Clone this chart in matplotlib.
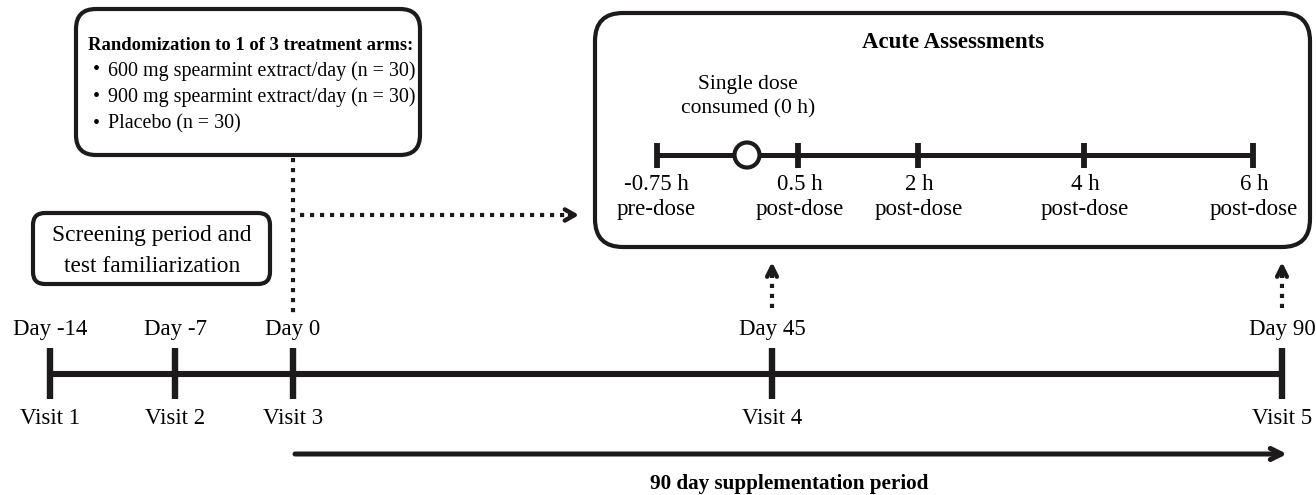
import matplotlib
matplotlib.use("Agg")
import matplotlib.pyplot as plt
from matplotlib.patches import FancyBboxPatch, Circle

plt.rcParams['font.family'] = ['Liberation Serif', 'DejaVu Serif']

# ---- data ----
day_labels = ["Day -14", "Day -7", "Day 0", "Day 45", "Day 90"]
visit_labels = ["Visit 1", "Visit 2", "Visit 3", "Visit 4", "Visit 5"]
arm_title = "Randomization to 1 of 3 treatment arms:"
arms = ["600 mg spearmint extract/day (n = 30)",
        "900 mg spearmint extract/day (n = 30)",
        "Placebo (n = 30)"]
screening_text = ["Screening period and", "test familiarization"]
acute_title = "Acute Assessments"
acute_times = ["-0.75 h", "0.5 h", "2 h", "4 h", "6 h"]
acute_phase = ["pre-dose", "post-dose", "post-dose", "post-dose", "post-dose"]
dose_text = ["Single dose", "consumed (0 h)"]
period_text = "90 day supplementation period"

# ---- layout (pixels) ----
W, H = 1316, 495
fig = plt.figure(figsize=(W / 100, H / 100), dpi=100)
ax = fig.add_axes([0, 0, 1, 1])
ax.set_xlim(0, W)
ax.set_ylim(H, 0)
ax.axis('off')

INK = '#1c1a1b'
FS = 16.5

# main timeline
tx = [50, 175, 293, 772, 1282]
ty = 374
ax.plot([tx[0], tx[-1]], [ty, ty], color=INK, lw=4.4, solid_capstyle='butt')
for i, x in enumerate(tx):
    ax.plot([x, x], [348, 399], color=INK, lw=4.6, solid_capstyle='butt')
    ax.text(x, 330, day_labels[i], ha='center', va='center', fontsize=FS)
    ax.text(x, 418, visit_labels[i], ha='center', va='center', fontsize=FS)

# bottom arrow
ax.annotate('', xy=(1287, 454), xytext=(295, 454),
            arrowprops=dict(arrowstyle='->,head_length=0.8,head_width=0.4',
                            lw=3.6, color=INK, shrinkA=0, shrinkB=0))
ax.text(789, 484, period_text, ha='center', va='center', fontsize=15.2, fontweight='bold')

# boxes
def rbox(x0, y0, x1, y1, r=18):
    p = FancyBboxPatch((x0 + r, y0 + r), (x1 - x0) - 2 * r, (y1 - y0) - 2 * r,
                       boxstyle=f"round,pad={r},rounding_size={r}",
                       fc='white', ec=INK, lw=3.0)
    ax.add_patch(p)

rbox(76, 9, 420, 155, r=20)
ax.text(251, 45, arm_title, ha='center', va='center', fontsize=13.4, fontweight='bold')
for i, a in enumerate(arms):
    y = 71 + i * 26.5
    ax.text(96, y, "\u2022", ha='center', va='center', fontsize=14.5)
    ax.text(108, y, a, ha='left', va='center', fontsize=14.4)

rbox(33, 213, 270, 284, r=12)
ax.text(152, 236, screening_text[0], ha='center', va='center', fontsize=16.8)
ax.text(152, 266, screening_text[1], ha='center', va='center', fontsize=16.8)

rbox(595, 13, 1310, 247, r=28)
ax.text(953, 43, acute_title, ha='center', va='center', fontsize=16.5, fontweight='bold')
ax.text(748, 85, dose_text[0], ha='center', va='center', fontsize=15.5)
ax.text(748, 109, dose_text[1], ha='center', va='center', fontsize=15.5)

ix = [657, 798, 918, 1084, 1253]
iy = 155
ax.plot([ix[0], ix[-1]], [iy, iy], color=INK, lw=3.6, solid_capstyle='butt')
for i, x in enumerate(ix):
    ax.plot([x, x], [143, 168], color=INK, lw=4.2, solid_capstyle='butt')
lx = [656, 800, 919, 1085, 1254]
for i in range(5):
    ax.text(lx[i], 185, acute_times[i], ha='center', va='center', fontsize=FS)
    ax.text(lx[i], 209, acute_phase[i], ha='center', va='center', fontsize=FS)
ax.add_patch(Circle((747, iy), 12.5, fc='white', ec=INK, lw=3.0, zorder=5))

# dotted connectors
dot = dict(color=INK, lw=3.0, ls=(0, (1, 1.4)), dash_capstyle='butt')
ax.plot([293, 293], [158, 318], **dot)
ax.plot([300, 570], [215, 215], **dot)
ax.annotate('', xy=(579, 215), xytext=(570, 215),
            arrowprops=dict(arrowstyle='->,head_length=0.7,head_width=0.4',
                            lw=3.2, color=INK, shrinkA=0, shrinkB=0))
for x in (772, 1282):
    ax.plot([x, x], [308, 274], **dot)
    ax.annotate('', xy=(x, 262), xytext=(x, 272),
                arrowprops=dict(arrowstyle='->,head_length=0.7,head_width=0.35',
                                lw=3.2, color=INK, shrinkA=0, shrinkB=0))

fig.savefig('out.png', dpi=100)
